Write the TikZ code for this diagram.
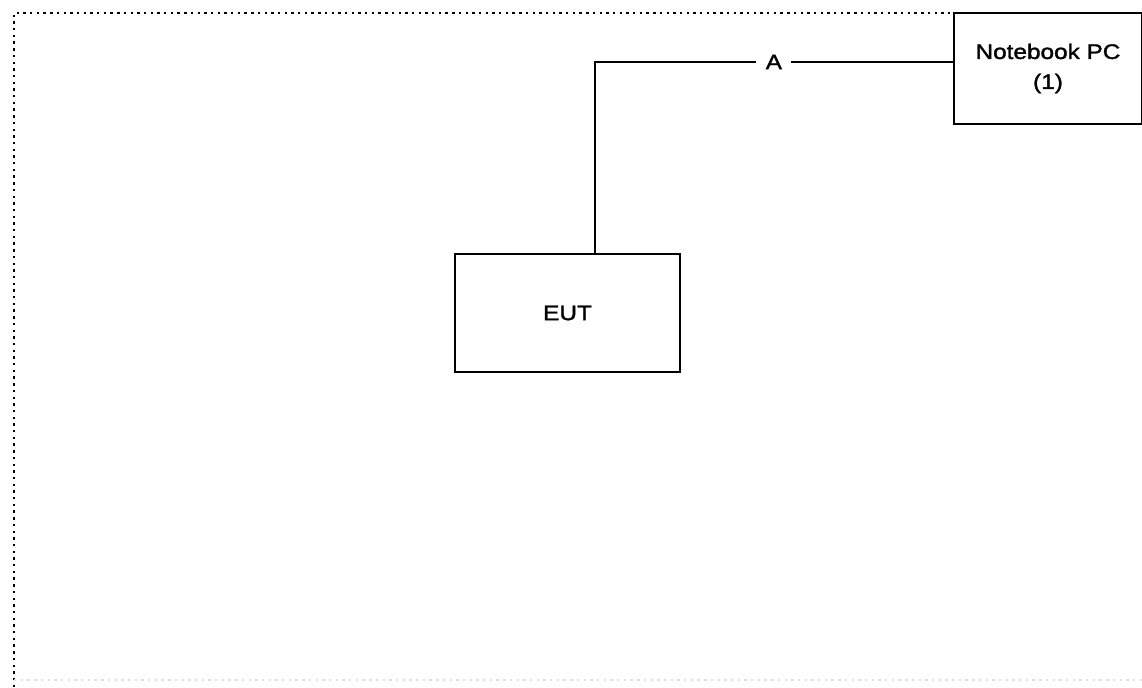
\documentclass[tikz,border=0pt]{standalone}
\usepackage{fontspec}
\setmainfont{Liberation Sans}[FakeStretch=1.16,FakeBold=1.6]
\begin{document}
\begin{tikzpicture}[x=0.5pt,y=-0.5pt,line width=1.25pt,
  unit/.style={draw,line width=1.25pt,inner sep=0pt,font=\fontsize{10.5}{15}\selectfont},
  frame/.style={line width=1.2pt,dash pattern=on 1.2pt off 2.15pt}]
  \useasboundingbox (0,0) rectangle (1142,687);
  \draw[frame] (14,687) -- (14,13) -- (954,13);
  \draw[frame,gray!25] (14,680) -- (1142,680);
  \node[unit,minimum width=112.5pt,minimum height=59pt](eut) at (567.5,313){EUT};
  \node[unit,minimum width=94pt,minimum height=55.5pt,align=center](pc) at (1048,68.5){Notebook PC\\(1)};
  \coordinate (bend) at (595,62);
  \draw (bend |- eut.north) -- (bend) -- node[fill=white,inner xsep=4.7pt,font=\fontsize{10.5}{15}\selectfont]{A} (pc.west |- bend);
\end{tikzpicture}
\end{document}
